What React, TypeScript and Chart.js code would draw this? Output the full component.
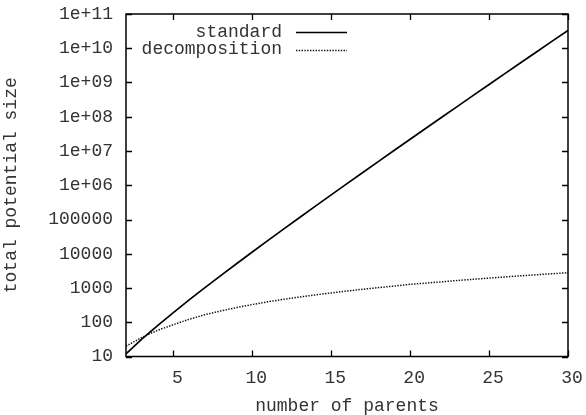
import React, { useEffect, useRef } from 'react';
import { Chart, registerables } from 'chart.js';

Chart.register(...registerables);

const parents = [2, 3, 4, 5, 6, 7, 8, 9, 10, 11, 12, 13, 14, 15, 16, 17, 18, 19, 20, 21, 22, 23, 24, 25, 26, 27, 28, 29, 30];
const standardSize = [12, 32, 80, 192, 448, 1024, 2304, 5120, 11264, 24576, 53248, 114688, 245760, 524288, 1114112, 2359296, 4980736, 10485760, 22020096, 46137344, 96468992, 201326592, 419430400, 872415232, 1811939328, 3758096384, 7784628224, 16106127360, 33285996544];
const decompositionSize = [20, 36, 58, 85, 122, 166, 214, 268, 330, 396, 468, 546, 630, 720, 816, 918, 1026, 1140, 1280, 1386, 1518, 1656, 1800, 1950, 2106, 2268, 2436, 2610, 2790];
const seriesLabels = ['standard', 'decomposition'];
const xTickValues = [5, 10, 15, 20, 25, 30];
const yTickValues = [10, 100, 1000, 10000, 100000, 1e6, 1e7, 1e8, 1e9, 1e10, 1e11];
const yTickLabels = ['10', '100', '1000', '10000', '100000', '1e+06', '1e+07', '1e+08', '1e+09', '1e+10', '1e+11'];
const xTitle = 'number of parents';
const yTitle = 'total potential size';

const FONT = "'Liberation Mono', 'DejaVu Sans Mono', monospace";
const TEXT_COLOR = '#333';

const gnuplotPlugin = {
  id: 'gnuplotFrame',
  afterDraw(chart: any) {
    const { ctx, chartArea: a, scales } = chart;
    ctx.save();
    ctx.strokeStyle = '#000';
    ctx.lineWidth = 1.5;
    ctx.strokeRect(a.left, a.top, a.right - a.left, a.bottom - a.top);
    ctx.lineWidth = 1.3;
    const t = 6;
    ctx.beginPath();
    scales.x.ticks.forEach((tk: any) => {
      const px = Math.round(scales.x.getPixelForValue(tk.value)) + 0.5;
      ctx.moveTo(px, a.bottom);
      ctx.lineTo(px, a.bottom - t);
      ctx.moveTo(px, a.top);
      ctx.lineTo(px, a.top + t);
    });
    scales.y.ticks.forEach((tk: any) => {
      const py = Math.round(scales.y.getPixelForValue(tk.value)) + 0.5;
      ctx.moveTo(a.left, py);
      ctx.lineTo(a.left + t, py);
      ctx.moveTo(a.right, py);
      ctx.lineTo(a.right - t, py);
    });
    ctx.stroke();

    // legend (gnuplot style: right-justified text, then line sample)
    ctx.font = `18px ${FONT}`;
    ctx.textAlign = 'right';
    ctx.textBaseline = 'middle';
    chart.data.datasets.forEach((ds: any, i: number) => {
      const y = a.top + 18 + i * 17.5;
      ctx.fillStyle = TEXT_COLOR;
      ctx.fillText(ds.label, 282, y);
      ctx.beginPath();
      ctx.strokeStyle = ds.borderColor;
      ctx.lineWidth = ds.borderWidth;
      ctx.setLineDash(ds.borderDash || []);
      ctx.moveTo(296, Math.round(y) + 0.5);
      ctx.lineTo(347, Math.round(y) + 0.5);
      ctx.stroke();
      ctx.setLineDash([]);
    });
    ctx.restore();
  },
};

export default function App() {
  const canvasRef = useRef<HTMLCanvasElement | null>(null);

  useEffect(() => {
    if (!canvasRef.current) return;
    const chart = new Chart(canvasRef.current, {
      type: 'line',
      data: {
        datasets: [
          {
            label: seriesLabels[0],
            data: parents.map((p, i) => ({ x: p, y: standardSize[i] })),
            borderColor: '#000',
            borderWidth: 1.7,
            pointRadius: 0,
            tension: 0,
            fill: false,
          },
          {
            label: seriesLabels[1],
            data: parents.map((p, i) => ({ x: p, y: decompositionSize[i] })),
            borderColor: '#111',
            borderWidth: 1.5,
            borderDash: [1.4, 1.4],
            pointRadius: 0,
            tension: 0,
            fill: false,
          },
        ],
      },
      options: {
        responsive: false,
        animation: false,
        events: [],
        layout: { padding: { left: 0, right: 18, top: 14, bottom: 0 } },
        plugins: {
          legend: { display: false },
          tooltip: { enabled: false },
          title: { display: false },
        },
        scales: {
          x: {
            type: 'linear',
            min: 2,
            max: 30,
            grid: { display: false, drawTicks: false },
            border: { display: false },
            afterBuildTicks: (scale: any) => {
              scale.ticks = xTickValues.map((v) => ({ value: v }));
            },
            afterFit: (scale: any) => {
              scale.height = 58.5;
              scale.paddingLeft = 0;
              scale.paddingRight = 0;
            },
            ticks: {
              autoSkip: false,
              maxRotation: 0,
              padding: 11,
              labelOffset: 4,
              color: TEXT_COLOR,
              font: { family: FONT, size: 18 },
              callback: (v: any) => String(v),
            },
            title: {
              display: true,
              text: xTitle,
              color: TEXT_COLOR,
              font: { family: FONT, size: 18 },
              padding: { top: 0, bottom: -2 },
            },
          },
          y: {
            type: 'logarithmic',
            min: 10,
            max: 1e11,
            grid: { display: false, drawTicks: false },
            border: { display: false },
            afterBuildTicks: (scale: any) => {
              scale.ticks = yTickValues.map((v) => ({ value: v }));
            },
            afterFit: (scale: any) => {
              scale.width = 126;
              scale.paddingTop = 0;
              scale.paddingBottom = 0;
            },
            ticks: {
              autoSkip: false,
              padding: 13,
              color: TEXT_COLOR,
              font: { family: FONT, size: 18 },
              callback: (_v: any, i: number) => yTickLabels[i],
            },
            title: {
              display: true,
              text: yTitle,
              color: TEXT_COLOR,
              font: { family: FONT, size: 18 },
              padding: { top: 0, bottom: 0 },
            },
          },
        },
      },
      plugins: [gnuplotPlugin],
    } as any);
    return () => chart.destroy();
  }, []);

  return (
    <div style={{ position: 'fixed', left: 0, top: 0, width: 586, height: 415, background: '#fff' }}>
      <canvas ref={canvasRef} width={586} height={415} />
    </div>
  );
}
